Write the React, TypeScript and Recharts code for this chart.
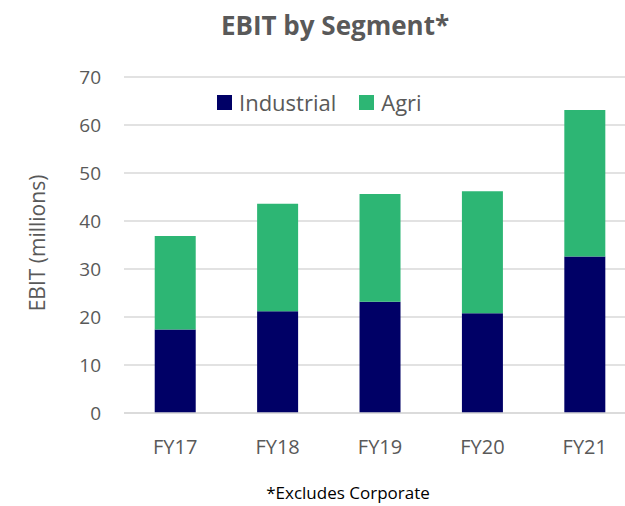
import { Bar, BarChart, CartesianGrid, XAxis, YAxis } from "recharts";

const years = ["FY17", "FY18", "FY19", "FY20", "FY21"];
const industrial = [17.4, 21.2, 23.2, 20.8, 32.6];
const agri = [19.5, 22.4, 22.4, 25.4, 30.5];
const yTicks = [0, 10, 20, 30, 40, 50, 60, 70];
const seriesNames = ["Industrial", "Agri"];

const NAVY = "#000066";
const GREEN = "#2db674";
const TEXT = "#595959";
const FONT = "'Open Sans', sans-serif";
const colors: Record<string, string> = { Industrial: NAVY, Agri: GREEN };

const data = years.map((year, i) => ({
  year,
  Industrial: industrial[i],
  Agri: agri[i]
}));

export default function App() {
  return (
    <div
      style={{
        position: "absolute",
        top: 0,
        left: 0,
        width: 625,
        height: 506,
        overflow: "hidden",
        background: "#fff",
        fontFamily: FONT
      }}
    >
      <div
        style={{
          position: "absolute",
          top: 12,
          left: 0,
          width: 670,
          textAlign: "center",
          fontSize: 26,
          lineHeight: "26px",
          fontWeight: 700,
          color: TEXT
        }}
      >
        EBIT by Segment*
      </div>
      <BarChart
        width={636}
        height={506}
        data={data}
        margin={{ top: 77, right: 0, bottom: 63, left: 0 }}
        barCategoryGap="30%"
      >
        <CartesianGrid vertical={false} stroke="#d9d9d9" strokeWidth={1.5} />
        <XAxis
          dataKey="year"
          height={30}
          axisLine={{ stroke: "#d9d9d9", strokeWidth: 1.5 }}
          tickLine={false}
          tickSize={0}
          tickMargin={27}
          tick={{ fill: TEXT, fontSize: 20, fontFamily: FONT }}
        />
        <YAxis
          width={124}
          domain={[0, 70]}
          ticks={yTicks}
          axisLine={false}
          tickLine={false}
          tickSize={0}
          tickMargin={23}
          tick={{ fill: TEXT, fontSize: 19, fontFamily: FONT }}
          label={() => (
            <text
              x={37}
              y={243}
              transform="rotate(-90, 37, 243)"
              textAnchor="middle"
              dominantBaseline="central"
              fill={TEXT}
              fontSize={21}
              fontFamily={FONT}
            >
              EBIT (millions)
            </text>
          )}
        />
        <Bar dataKey="Industrial" stackId="a" fill={NAVY} isAnimationActive={false} />
        <Bar dataKey="Agri" stackId="a" fill={GREEN} isAnimationActive={false} />
      </BarChart>
      <div
        style={{
          position: "absolute",
          top: 91,
          left: 217,
          display: "flex",
          alignItems: "center"
        }}
      >
        {seriesNames.map((name) => (
          <div
            key={name}
            style={{ display: "flex", alignItems: "center", marginRight: 23 }}
          >
            <span
              style={{
                width: 15,
                height: 15,
                background: colors[name],
                display: "inline-block",
                marginRight: 7
              }}
            />
            <span style={{ fontSize: 22, color: TEXT, lineHeight: "22px" }}>
              {name}
            </span>
          </div>
        ))}
      </div>
      <div
        style={{
          position: "absolute",
          top: 481,
          left: 0,
          width: 696,
          textAlign: "center",
          fontSize: 17,
          lineHeight: "23px",
          color: "#000"
        }}
      >
        *Excludes Corporate
      </div>
    </div>
  );
}
